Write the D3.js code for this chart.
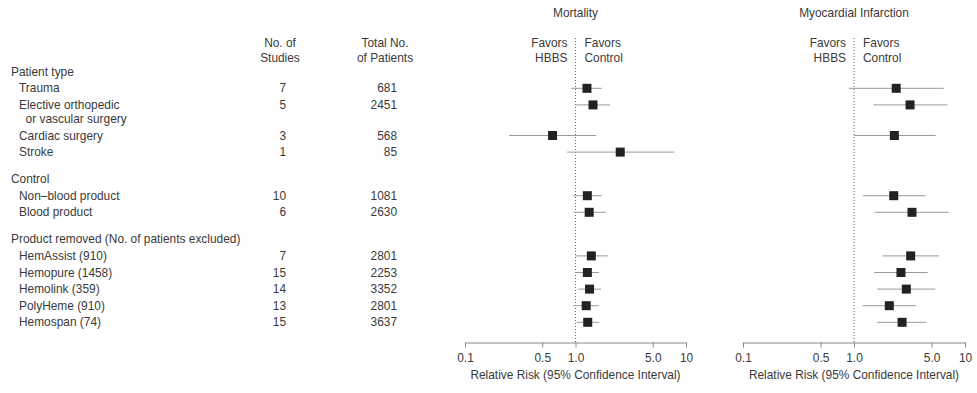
<!DOCTYPE html>
<html>
<head>
<meta charset="utf-8">
<script src="https://cdn.jsdelivr.net/npm/d3@7"></script>
<style>
  body { margin: 0; background: #fff; }
  text { font-family: "Liberation Sans", Arial, sans-serif; fill: #3a3a3a; }
</style>
</head>
<body>
<div id="chart"></div>
<script>
// data
const groups = ["Patient type", "Control", "Product removed (No. of patients excluded)"];
const rowGroup = [0, 0, 0, 0, 1, 1, 2, 2, 2, 2, 2];
const rowLabels = [["Trauma"], ["Elective orthopedic", "  or vascular surgery"], ["Cardiac surgery"], ["Stroke"],
  ["Non\u2013blood product"], ["Blood product"],
  ["HemAssist (910)"], ["Hemopure (1458)"], ["Hemolink (359)"], ["PolyHeme (910)"], ["Hemospan (74)"]];
const studies = [7, 5, 3, 1, 10, 6, 7, 15, 14, 13, 15];
const patients = [681, 2451, 568, 85, 1081, 2630, 2801, 2253, 3352, 2801, 3637];

const mortRR = [1.27, 1.44, 0.62, 2.54, 1.28, 1.33, 1.39, 1.28, 1.34, 1.25, 1.29];
const mortLo = [0.91, 1.0, 0.25, 0.84, 0.96, 0.97, 1.0, 1.0, 1.06, 0.96, 1.03];
const mortHi = [1.73, 2.06, 1.53, 7.82, 1.73, 1.88, 1.96, 1.63, 1.70, 1.63, 1.63];

const miRR = [2.40, 3.20, 2.31, null, 2.28, 3.33, 3.24, 2.65, 2.96, 2.08, 2.71];
const miLo = [0.90, 1.49, 1.0, null, 1.20, 1.54, 1.81, 1.52, 1.62, 1.19, 1.62];
const miHi = [6.43, 6.93, 5.44, null, 4.39, 7.13, 5.83, 4.61, 5.40, 3.64, 4.48];

const tickVals = [0.1, 0.5, 1, 5, 10];
const tickLabels = ["0.1", "0.5", "1.0", "5.0", "10"];

const W = 977, H = 393;
const svg = d3.select("#chart").append("svg").attr("width", W).attr("height", H);

// row layout
const lineH = 16.6, wrapH = 14, groupGap = 10.4;
let y = 71.7;
const headerY = [], rowY = [];
groups.forEach((g, gi) => {
  headerY.push(y);
  y += lineH;
  rowGroup.forEach((rg, i) => {
    if (rg !== gi) return;
    rowY[i] = y;
    y += lineH + (rowLabels[i].length > 1 ? wrapH : 0);
  });
  y += groupGap;
});

const fs = 11.9;
// headers
svg.selectAll(".ghead").data(groups).enter().append("text")
  .attr("x", 11).attr("y", (d, i) => headerY[i]).attr("dy", "0.35em")
  .style("font-size", fs + "px").text(d => d);

rowLabels.forEach((lines, i) => {
  lines.forEach((l, j) => {
    svg.append("text").attr("x", 19).attr("y", rowY[i] + j * 14.3).attr("dy", "0.35em")
      .attr("xml:space", "preserve").style("white-space", "pre")
      .style("font-size", fs + "px").text(l);
  });
});

// column headings
[["No. of", "Studies", 280], ["Total No.", "of Patients", 385]].forEach(c => {
  svg.append("text").attr("x", c[2]).attr("y", 43.3).attr("dy", "0.35em").attr("text-anchor", "middle").style("font-size", fs + "px").text(c[0]);
  svg.append("text").attr("x", c[2]).attr("y", 57.7).attr("dy", "0.35em").attr("text-anchor", "middle").style("font-size", fs + "px").text(c[1]);
});
svg.selectAll(".stud").data(studies).enter().append("text")
  .attr("x", 286).attr("y", (d, i) => rowY[i]).attr("dy", "0.35em").attr("text-anchor", "end")
  .style("font-size", fs + "px").text(d => d);
svg.selectAll(".pat").data(patients).enter().append("text")
  .attr("x", 397).attr("y", (d, i) => rowY[i]).attr("dy", "0.35em").attr("text-anchor", "end")
  .style("font-size", fs + "px").text(d => d);

// forest panels
function panel(title, x0, x1, rr, lo, hi) {
  const x = d3.scaleLog().domain([0.1, 10]).range([x0, x1]);
  const axisY = 342.5;
  const g = svg.append("g");

  g.append("text").attr("x", x(1)).attr("y", 13).attr("dy", "0.35em").attr("text-anchor", "middle")
    .style("font-size", fs + "px").text(title);
  g.append("text").attr("x", x(1) - 8).attr("y", 43.3).attr("dy", "0.35em").attr("text-anchor", "end").style("font-size", fs + "px").text("Favors");
  g.append("text").attr("x", x(1) - 8).attr("y", 57.7).attr("dy", "0.35em").attr("text-anchor", "end").style("font-size", fs + "px").text("HBBS");
  g.append("text").attr("x", x(1) + 9).attr("y", 43.3).attr("dy", "0.35em").style("font-size", fs + "px").text("Favors");
  g.append("text").attr("x", x(1) + 9).attr("y", 57.7).attr("dy", "0.35em").style("font-size", fs + "px").text("Control");

  g.append("line").attr("x1", x(1)).attr("x2", x(1)).attr("y1", 38).attr("y2", axisY)
    .attr("stroke", "#666").attr("stroke-width", 1).attr("stroke-dasharray", "1,2");

  const idx = d3.range(rr.length).filter(i => rr[i] != null);
  g.selectAll(".ci").data(idx).enter().append("line")
    .attr("x1", i => x(lo[i])).attr("x2", i => x(hi[i]))
    .attr("y1", i => rowY[i]).attr("y2", i => rowY[i])
    .attr("stroke", "#9a9a9a").attr("stroke-width", 1);
  const s = 9;
  g.selectAll(".pt").data(idx).enter().append("rect")
    .attr("x", i => x(rr[i]) - s / 2).attr("y", i => rowY[i] - s / 2)
    .attr("width", s).attr("height", s).attr("fill", "#222");

  const ax = g.append("g").attr("transform", `translate(0,${axisY})`)
    .call(d3.axisBottom(x).tickValues(tickVals).tickFormat((d, i) => tickLabels[i]).tickSize(5).tickSizeOuter(0));
  ax.select(".domain").attr("stroke", "#888");
  ax.selectAll(".tick line").attr("stroke", "#888");
  ax.selectAll(".tick text").attr("dy", "0").attr("y", 19).style("font-size", fs + "px")
    .style("font-family", "Liberation Sans, Arial, sans-serif").attr("fill", "#3a3a3a");

  g.append("text").attr("x", (x0 + x1) / 2).attr("y", 375).attr("dy", "0.35em").attr("text-anchor", "middle")
    .style("font-size", fs + "px").text("Relative Risk (95% Confidence Interval)");
}

panel("Mortality", 465, 686, mortRR, mortLo, mortHi);
panel("Myocardial Infarction", 743, 965, miRR, miLo, miHi);
</script>
</body>
</html>
